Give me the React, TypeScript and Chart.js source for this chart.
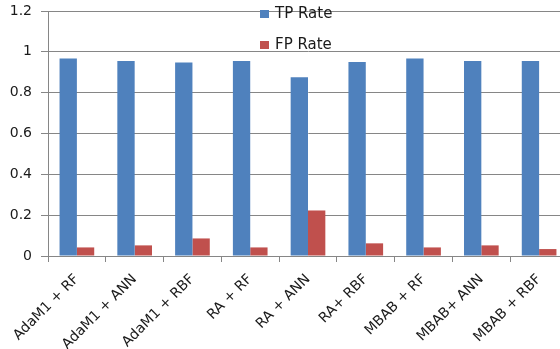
import React, { useEffect, useRef } from "react";
import { Chart, registerables } from "chart.js";

Chart.register(...registerables);

const categories = [
  "AdaM1 + RF",
  "AdaM1 + ANN",
  "AdaM1 + RBF",
  "RA + RF",
  "RA + ANN",
  "RA+ RBF",
  "MBAB + RF",
  "MBAB+ ANN",
  "MBAB + RBF",
];
const tpRate = [0.967, 0.955, 0.948, 0.955, 0.875, 0.95, 0.967, 0.955, 0.955];
const fpRate = [0.042, 0.052, 0.086, 0.042, 0.223, 0.062, 0.042, 0.052, 0.034];
const seriesNames = ["TP Rate", "FP Rate"];
const seriesColors = ["#4F81BD", "#C0504D"];

const FONT = "'DejaVu Sans', Verdana, sans-serif";

const floatingLegend = {
  id: "floatingLegend",
  afterDraw(chart: any) {
    const ctx = chart.ctx;
    ctx.save();
    ctx.font = `15px ${FONT}`;
    ctx.textBaseline = "middle";
    ctx.textAlign = "left";
    const rows = [14, 45];
    chart.data.datasets.forEach((ds: any, i: number) => {
      const y = rows[i];
      ctx.fillStyle = ds.backgroundColor;
      ctx.fillRect(260, y - 4, 9, 8);
      ctx.fillStyle = "#1a1a1a";
      ctx.fillText(ds.label, 275, y);
    });
    ctx.restore();
  },
};

export default function App() {
  const ref = useRef<HTMLCanvasElement>(null);
  useEffect(() => {
    if (!ref.current) return;
    const chart = new Chart(ref.current, {
      type: "bar",
      data: {
        labels: categories,
        datasets: [
          { label: seriesNames[0], data: tpRate, backgroundColor: seriesColors[0] },
          { label: seriesNames[1], data: fpRate, backgroundColor: seriesColors[1] },
        ],
      },
      options: {
        animation: false,
        responsive: false,
        devicePixelRatio: 1,
        layout: { padding: { top: 11, left: 0, right: 0, bottom: 0 } },
        datasets: { bar: { categoryPercentage: 0.6, barPercentage: 1 } },
        plugins: { legend: { display: false }, tooltip: { enabled: false } },
        scales: {
          x: {
            grid: {
              offset: true,
              drawOnChartArea: false,
              drawTicks: true,
              tickLength: 6,
              color: "#868686",
            },
            border: { color: "#868686" },
            ticks: {
              minRotation: 45,
              maxRotation: 45,
              autoSkip: false,
              color: "#1a1a1a",
              font: { family: FONT, size: 14 },
              padding: 9,
            },
            afterFit(scale: any) {
              scale.height = 93;
              scale.paddingLeft = 0;
              scale.paddingRight = 0;
            },
          },
          y: {
            min: 0,
            max: 1.2,
            ticks: {
              stepSize: 0.2,
              color: "#1a1a1a",
              font: { family: FONT, size: 14 },
              padding: 9,
              callback: (v: any) => String(Number(Number(v).toFixed(1))),
            },
            grid: { color: "#868686", tickLength: 7 },
            border: { color: "#868686" },
            afterFit(scale: any) {
              scale.width = 48;
              scale.paddingTop = 0;
              scale.paddingBottom = 0;
            },
          },
        },
      },
      plugins: [floatingLegend],
    });
    return () => chart.destroy();
  }, []);
  return (
    <div
      style={{
        position: "fixed",
        left: 0,
        top: 0,
        width: 560,
        height: 349,
        overflow: "hidden",
        background: "#fff",
      }}
    >
      <canvas ref={ref} width={568} height={349} style={{ display: "block" }} />
    </div>
  );
}
